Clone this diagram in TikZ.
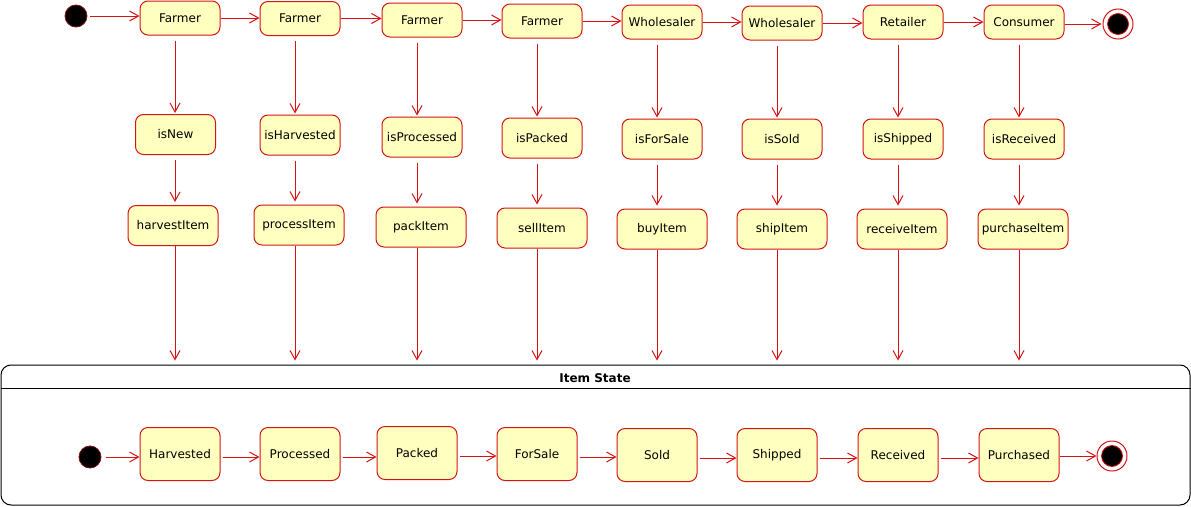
\documentclass[tikz,border=0pt]{standalone}
\usepackage{fontspec}
\setmainfont{DejaVu Sans}
\usetikzlibrary{arrows.meta}
\definecolor{stfill}{HTML}{FFFFC0}
\definecolor{stline}{HTML}{D41414}
\begin{document}
\begin{tikzpicture}[x=1pt,y=-1pt,
  st/.style={draw=stline, fill=stfill, rounded corners=8pt, line width=1pt,
    minimum width=80pt, minimum height=34pt, inner sep=2pt,
    font=\fontsize{12}{14}\selectfont},
  cond/.style={st, minimum height=40pt},
  act/.style={st, minimum width=90pt, minimum height=40pt},
  bst/.style={st, minimum height=53pt},
  arr/.style={draw=stline, line width=1pt, -{Straight Barb[length=9pt,width=10pt,line width=1pt]}},
  initst/.style={circle, fill=black, draw=stline!60!black, line width=0.8pt,
    minimum size=22pt, inner sep=0pt},
  finst/.style={circle, draw=stline, fill=white, line width=1pt, minimum size=30pt,
    inner sep=0pt, path picture={\draw[stline, fill=black, line width=0.8pt]
      (path picture bounding box.center) circle (10.5pt);}},
  cont/.style={draw=black, line width=1pt, rounded corners=10pt,
    minimum width=1189pt, minimum height=140pt, inner sep=0pt}
]
\useasboundingbox (0,0) rectangle (1191,506);

% column x positions for vertical connectors
\foreach \i/\x in {1/175,2/295,3/417,4/537,5/657,6/777,7/898,8/1019}
  \coordinate (c\i) at (\x,0);

% top row
\node[initst] (i1) at (76,16) {};
\node[st] (f1) at (180,18) {Farmer};
\node[st] (f2) at (300,18.5) {Farmer};
\node[st] (f3) at (422,20) {Farmer};
\node[st] (f4) at (542,21) {Farmer};
\node[st] (f5) at (662,22) {Wholesaler};
\node[st] (f6) at (782,23) {Wholesaler};
\node[st] (f7) at (903,22) {Retailer};
\node[st] (f8) at (1024,22) {Consumer};
\node[finst] (e1) at (1118,24) {};

% condition row
\node[cond] (n1) at (175.5,134.5) {isNew};
\node[cond] (n2) at (300,135) {isHarvested};
\node[cond] (n3) at (422,137) {isProcessed};
\node[cond] (n4) at (542,138) {isPacked};
\node[cond] (n5) at (662,139) {isForSale};
\node[cond] (n6) at (782,139) {isSold};
\node[cond] (n7) at (903,139) {isShipped};
\node[cond] (n8) at (1024,139) {isReceived};

% action row
\node[act] (a1) at (173,225.5) {harvestItem};
\node[act] (a2) at (299,225) {processItem};
\node[act] (a3) at (421,227) {packItem};
\node[act] (a4) at (542,228) {sellItem};
\node[act] (a5) at (662,229) {buyItem};
\node[act] (a6) at (782,229) {shipItem};
\node[act] (a7) at (902,229) {receiveItem};
\node[act] (a8) at (1023,229) {purchaseItem};

% container
\node[cont] (box) at (595.5,435) {};
\node[font=\fontsize{12}{14}\selectfont\bfseries] (title) at (595,378) {Item State};
\coordinate (hl) at (0,388);
\draw[line width=1pt] (box.west |- hl) -- (box.east |- hl);

% bottom row
\node[initst] (i2) at (90,457) {};
\node[bst] (b1) at (180,454) {Harvested};
\node[bst] (b2) at (300,454) {Processed};
\node[bst] (b3) at (417,453) {Packed};
\node[bst] (b4) at (537,454) {ForSale};
\node[bst] (b5) at (657,455) {Sold};
\node[bst] (b6) at (777,455) {Shipped};
\node[bst] (b7) at (898,455) {Received};
\node[bst] (b8) at (1019,455) {Purchased};
\node[finst] (e2) at (1112,456) {};

% top row connectors
\draw[arr, shorten <=3pt] (i1.east) -- (i1.east -| f1.west);
\foreach \a/\b in {f1/f2,f2/f3,f3/f4,f4/f5,f5/f6,f6/f7,f7/f8}
  \draw[arr] (\a.east) -- (\a.east -| \b.west);
\draw[arr, shorten >=1pt] ([yshift=-2pt]f8.east) -- ([yshift=-2pt]f8.east -| e1.west);

% vertical connectors
\foreach \i in {1,...,8} {
  \draw[arr, shorten <=5pt, shorten >=1pt] (f\i.south -| c\i) -- (n\i.north -| c\i);
  \draw[arr, shorten <=5pt, shorten >=3pt] (n\i.south -| c\i) -- (a\i.north -| c\i);
  \draw[arr, shorten >=4pt] (a\i.south -| c\i) -- (box.north -| c\i);
}

% bottom row connectors
\draw[arr, shorten <=5pt] (i2.east) -- (i2.east -| b1.west);
\foreach \a/\b in {b1/b2,b2/b3,b3/b4,b4/b5,b5/b6,b6/b7,b7/b8}
  \draw[arr, shorten <=2pt] ([yshift=-3pt]\a.east) -- ([yshift=-3pt]\a.east -| \b.west);
\draw[arr] ([yshift=-1pt]b8.east) -- ([yshift=-1pt]b8.east -| e2.west);
\end{tikzpicture}
\end{document}
